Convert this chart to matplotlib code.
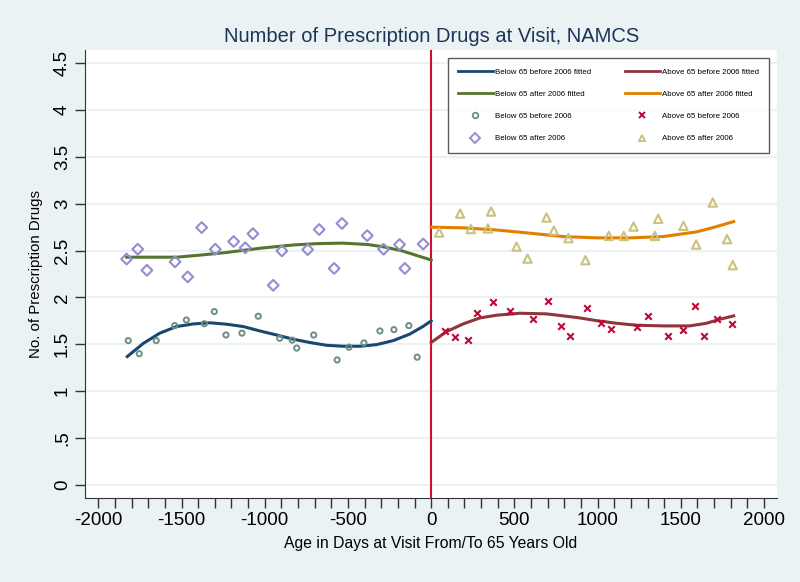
import numpy as np
import matplotlib.pyplot as plt
from matplotlib.lines import Line2D

plt.rcParams['font.family'] = ['Liberation Sans', 'DejaVu Sans']
plt.rcParams['axes.unicode_minus'] = False

# scatter: below 65 before 2006 (circles)
bb_x = [-1820, -1754, -1652, -1541, -1471, -1363, -1303, -1233, -1137, -1039, -910,
        -835, -808, -706, -565, -494, -404, -308, -224, -134, -84]
bb_y = [1.54, 1.40, 1.54, 1.70, 1.76, 1.72, 1.85, 1.60, 1.62, 1.80, 1.565,
        1.545, 1.46, 1.60, 1.334, 1.47, 1.515, 1.643, 1.657, 1.70, 1.363]

# scatter: below 65 after 2006 (diamonds)
ba_x = [-1830, -1763, -1708, -1539, -1463, -1379, -1297, -1187, -1117, -1071, -949,
        -897, -742, -673, -583, -536, -384, -286, -190, -158, -48]
ba_y = [2.41, 2.515, 2.29, 2.38, 2.22, 2.746, 2.515, 2.597, 2.53, 2.68, 2.13,
        2.497, 2.51, 2.725, 2.31, 2.79, 2.66, 2.515, 2.565, 2.31, 2.57]

# scatter: above 65 before 2006 (x)
ab_x = [84, 142, 220, 273, 373, 474, 613, 701, 781, 837, 939,
        1023, 1081, 1235, 1300, 1422, 1512, 1588, 1640, 1716, 1808]
ab_y = [1.647, 1.583, 1.544, 1.832, 1.956, 1.857, 1.775, 1.96, 1.697, 1.594, 1.892,
        1.726, 1.66, 1.69, 1.80, 1.594, 1.657, 1.914, 1.594, 1.775, 1.718]

# scatter: above 65 after 2006 (triangles)
aa_x = [48, 174, 238, 341, 360, 513, 579, 693, 737, 825, 927,
        1067, 1157, 1216, 1344, 1364, 1516, 1592, 1692, 1778, 1812]
aa_y = [2.693, 2.895, 2.73, 2.736, 2.917, 2.543, 2.415, 2.853, 2.714, 2.633, 2.398,
        2.657, 2.657, 2.757, 2.657, 2.839, 2.764, 2.565, 3.013, 2.622, 2.345]

# fitted curves
fbb_x = [-1826, -1730, -1630, -1530, -1429, -1329, -1229, -1129, -1029, -929, -829,
         -729, -628, -528, -428, -328, -228, -128, -50, 0]
fbb_y = [1.37, 1.51, 1.62, 1.69, 1.718, 1.73, 1.715, 1.69, 1.643, 1.60, 1.555,
         1.52, 1.49, 1.48, 1.48, 1.497, 1.54, 1.61, 1.69, 1.75]

fba_x = [-1830, -1700, -1530, -1400, -1230, -1030, -830, -680, -530, -380, -286, -180, -90, 0]
fba_y = [2.43, 2.43, 2.43, 2.45, 2.48, 2.525, 2.56, 2.575, 2.58, 2.565, 2.54, 2.50, 2.45, 2.40]

fab_x = [0, 92, 192, 293, 393, 533, 693, 794, 893, 994, 1114, 1234, 1394, 1554, 1654, 1735, 1818]
fab_y = [1.52, 1.636, 1.718, 1.782, 1.811, 1.832, 1.825, 1.804, 1.782, 1.753, 1.725, 1.704,
         1.697, 1.697, 1.725, 1.768, 1.804]

faa_x = [0, 192, 393, 593, 794, 994, 1194, 1395, 1515, 1595, 1694, 1818]
faa_y = [2.75, 2.743, 2.72, 2.686, 2.65, 2.636, 2.636, 2.65, 2.68, 2.70, 2.746, 2.81]

yticks = [0, 0.5, 1, 1.5, 2, 2.5, 3, 3.5, 4, 4.5]
ytick_labels = ['0', '.5', '1', '1.5', '2', '2.5', '3', '3.5', '4', '4.5']
xticks = [-2000, -1500, -1000, -500, 0, 500, 1000, 1500, 2000]

c_navy = '#1a476f'
c_maroon = '#90353b'
c_green = '#55752f'
c_orange = '#e37e00'
c_teal = '#6e8e84'
c_cran = '#c10534'
c_lav = '#938dd2'
c_khaki = '#cac27e'
bg = '#eaf2f3'

fig = plt.figure(figsize=(8, 5.82), dpi=100, facecolor=bg)
ax = fig.add_axes([0.10625, 0.1443, 0.8646, 0.7698])
ax.set_facecolor('white')

for y in yticks:
    ax.axhline(y, color=bg, lw=1.6, zorder=0)
ax.axvline(0, color='#d0102a', lw=1.5, zorder=1)

ax.plot(fbb_x, fbb_y, color=c_navy, lw=2.2, zorder=3)
ax.plot(fab_x, fab_y, color=c_maroon, lw=2.2, zorder=3)
ax.plot(fba_x, fba_y, color=c_green, lw=2.2, zorder=3)
ax.plot(faa_x, faa_y, color=c_orange, lw=2.2, zorder=3)

ax.scatter(bb_x, bb_y, s=14, facecolors='none', edgecolors=c_teal, linewidths=1.4, zorder=4)
ax.scatter(ab_x, ab_y, s=22, marker='x', color=c_cran, linewidths=1.5, zorder=4)
ax.scatter(ba_x, ba_y, s=30, marker='D', facecolors='none', edgecolors=c_lav, linewidths=1.5, zorder=4)
ax.scatter(aa_x, aa_y, s=36, marker='^', facecolors='none', edgecolors=c_khaki, linewidths=1.5, zorder=4)

ax.set_xlim(-2080, 2076)
ax.set_ylim(-0.139, 4.64)
ax.set_xticks(xticks)
ax.set_xticks(np.arange(-2000, 2001, 100), minor=True)
ax.set_yticks(yticks)
ax.set_yticklabels(ytick_labels, rotation=90, va='center')
ax.tick_params(axis='both', labelsize=13.5, length=7, width=1, color='#333333', pad=3)
ax.tick_params(axis='x', which='minor', length=7, width=1, color='#333333')
for s in ['top', 'right']:
    ax.spines[s].set_visible(False)
for s in ['left', 'bottom']:
    ax.spines[s].set_color('#333333')

ax.set_xlabel('Age in Days at Visit From/To 65 Years Old', fontsize=11.3, labelpad=5)
ax.set_ylabel('No. of Prescription Drugs', fontsize=10.8, labelpad=8)
fig.text(0.539, 0.938, 'Number of Prescription Drugs at Visit, NAMCS', ha='center', va='center',
         fontsize=14.5, color='#1e3559')

handles = [
    Line2D([], [], color=c_navy, lw=2),
    Line2D([], [], color=c_green, lw=2),
    Line2D([], [], ls='none', marker='o', ms=4, mfc='none', mec=c_teal, mew=1.3),
    Line2D([], [], ls='none', marker='D', ms=5, mfc='none', mec=c_lav, mew=1.4),
    Line2D([], [], color=c_maroon, lw=2),
    Line2D([], [], color=c_orange, lw=2),
    Line2D([], [], ls='none', marker='x', ms=4.5, color=c_cran, mew=1.4),
    Line2D([], [], ls='none', marker='^', ms=5, mfc='none', mec=c_khaki, mew=1.4),
]
labels = ['Below 65 before 2006 fitted', 'Below 65 after 2006 fitted',
          'Below 65 before 2006', 'Below 65 after 2006',
          'Above 65 before 2006 fitted', 'Above 65 after 2006 fitted',
          'Above 65 before 2006', 'Above 65 after 2006']
leg = ax.legend(handles, labels, ncol=2, loc='upper right', bbox_to_anchor=(0.989, 0.982),
                fontsize=5.7, frameon=True, fancybox=False, edgecolor='#333333',
                handlelength=4.4, handletextpad=0.25, columnspacing=4.3, labelspacing=1.85,
                borderpad=1.3, borderaxespad=0)
leg.get_frame().set_linewidth(1.0)

fig.savefig('out.png', dpi=100, facecolor=bg)
